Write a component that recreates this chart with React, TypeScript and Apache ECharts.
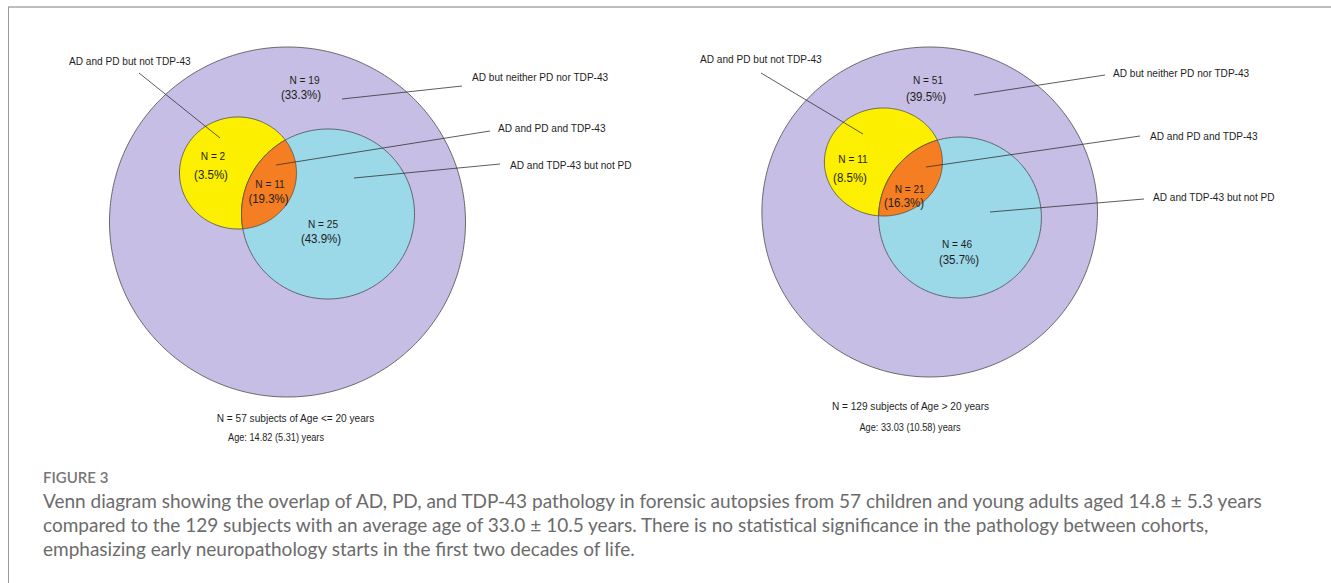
import React, { useEffect, useRef } from "react";
import * as echarts from "echarts";

// ---------- data ----------
// region order = drawing order (AD only, AD+PD, AD+TDP-43, AD+PD+TDP-43)
const regionNames = [
  "AD but neither PD nor TDP-43",
  "AD and PD but not TDP-43",
  "AD and TDP-43 but not PD",
  "AD and PD and TDP-43",
];
const youngCounts = [19, 2, 25, 11];
const youngPercents = ["33.3%", "3.5%", "43.9%", "19.3%"];
const olderCounts = [51, 11, 46, 21];
const olderPercents = ["39.5%", "8.5%", "35.7%", "16.3%"];
const cohortTitles = ["N = 57 subjects of Age <= 20 years", "N = 129 subjects of Age > 20 years"];
const cohortAges = ["Age: 14.82 (5.31) years", "Age: 33.03 (10.58) years"];
const figureLabel = "FIGURE 3";
const captionLines = [
  "Venn diagram showing the overlap of AD, PD, and TDP-43 pathology in forensic autopsies from 57 children and young adults aged 14.8 \u00b1 5.3 years",
  "compared to the 129 subjects with an average age of 33.0 \u00b1 10.5 years. There is no statistical significance in the pathology between cohorts,",
  "emphasizing early neuropathology starts in the first two decades of life.",
];

// ---------- layout (positions / styles) ----------
type Ell = { cx: number; cy: number; rx: number; ry: number };
type PanelLayout = {
  ad: Ell;
  pd: Ell;
  tdp: Ell;
  nPos: number[][];
  pPos: number[][];
  calloutText: number[][];
  calloutLine: number[][];
  titlePos: number[];
  agePos: number[];
};

const layouts: PanelLayout[] = [
  {
    ad: { cx: 287.5, cy: 222, rx: 178, ry: 175 },
    pd: { cx: 238, cy: 173, rx: 58.5, ry: 56 },
    tdp: { cx: 328, cy: 214, rx: 86.5, ry: 85 },
    nPos: [[304.5, 80], [213, 156], [323, 224], [270, 184]],
    pPos: [[301, 95], [211, 175], [321, 239], [268.5, 199]],
    calloutText: [[472, 77], [69, 61], [510, 165], [498, 128]],
    calloutLine: [
      [462, 86, 342, 99],
      [139, 73, 220, 138],
      [500, 164, 354, 178],
      [490, 131, 276, 165],
    ],
    titlePos: [295.5, 418],
    agePos: [276, 437],
  },
  {
    ad: { cx: 929.7, cy: 212, rx: 167.8, ry: 165 },
    pd: { cx: 883.4, cy: 162, rx: 59, ry: 54 },
    tdp: { cx: 960, cy: 217.5, rx: 81.4, ry: 80.5 },
    nPos: [[928, 80], [853, 159], [957, 244], [909.7, 189]],
    pPos: [[926, 97], [850, 178], [959, 260], [904, 203]],
    calloutText: [[1113, 73], [700, 59], [1153, 197], [1150, 136]],
    calloutLine: [
      [1105, 75, 974, 95],
      [761, 73, 863, 134],
      [1144, 199, 990, 212],
      [1140, 136, 926, 167],
    ],
    titlePos: [910.5, 406],
    agePos: [910, 427],
  },
];

const regionColors = ["#c6bee4", "#fcef00", "#9bd8e8", "#f57e22"];
const outline = "#4a4a4a";
const venFont = '"Liberation Sans", Arial, sans-serif';
const squash = 0.92;
const capFont = 'Lato, "Open Sans", sans-serif';

const panelCounts = [youngCounts, olderCounts];
const panelPercents = [youngPercents, olderPercents];

function inside(e: Ell, x: number, y: number) {
  const dx = (x - e.cx) / e.rx;
  const dy = (y - e.cy) / e.ry;
  return dx * dx + dy * dy <= 1;
}

function ellPoints(e: Ell, n = 360) {
  const pts: number[][] = [];
  for (let i = 0; i < n; i++) {
    const t = (2 * Math.PI * i) / n;
    pts.push([e.cx + e.rx * Math.cos(t), e.cy + e.ry * Math.sin(t)]);
  }
  return pts;
}

function intersectionPoints(a: Ell, b: Ell) {
  const pts = ellPoints(a, 720)
    .filter((p) => inside(b, p[0], p[1]))
    .concat(ellPoints(b, 720).filter((p) => inside(a, p[0], p[1])));
  const mx = pts.reduce((s, p) => s + p[0], 0) / pts.length;
  const my = pts.reduce((s, p) => s + p[1], 0) / pts.length;
  pts.sort((p, q) => Math.atan2(p[1] - my, p[0] - mx) - Math.atan2(q[1] - my, q[0] - mx));
  return pts;
}

const seriesData: number[][] = [];
panelCounts.forEach((counts, p) => counts.forEach((c, r) => seriesData.push([p, r, c])));

function vText(pos: number[], text: string, size: number, align: string) {
  return {
    type: "text",
    x: pos[0],
    y: pos[1],
    scaleX: squash,
    style: { text, fill: "#1e1e1e", font: `${size}px ${venFont}`, align, verticalAlign: "middle" },
  };
}

export default function App() {
  const ref = useRef<HTMLDivElement>(null);
  useEffect(() => {
    if (!ref.current) return;
    const chart = echarts.init(ref.current, null, { renderer: "svg" });

    const renderItem = (params: any, api: any) => {
      const p = api.value(0);
      const r = api.value(1);
      const count = api.value(2);
      const L = layouts[p];
      const c = (pt: number[]) => api.coord(pt);
      const children: any[] = [];
      let shapePts: number[][];
      if (r === 0) shapePts = ellPoints(L.ad);
      else if (r === 1) shapePts = ellPoints(L.pd);
      else if (r === 2) shapePts = ellPoints(L.tdp);
      else shapePts = intersectionPoints(L.pd, L.tdp);
      children.push({
        type: "polygon",
        shape: { points: shapePts.map(c) },
        style: { fill: regionColors[r], stroke: outline, lineWidth: 0.8 },
      });
      const ln = L.calloutLine[r];
      const a = c([ln[0], ln[1]]);
      const b = c([ln[2], ln[3]]);
      children.push({
        type: "line",
        shape: { x1: a[0], y1: a[1], x2: b[0], y2: b[1] },
        style: { stroke: "#333", lineWidth: 0.8 },
      });
      children.push(vText(c(L.calloutText[r]), regionNames[r], 11, "left"));
      children.push(vText(c(L.nPos[r]), `N = ${count}`, 11, "center"));
      children.push(vText(c(L.pPos[r]), `(${panelPercents[p][r]})`, 12.5, "center"));
      if (r === 0) {
        children.push(vText(c(L.titlePos), cohortTitles[p], 11, "center"));
        children.push(vText(c(L.agePos), cohortAges[p], 10, "center"));
      }
      return { type: "group", children };
    };

    const graphics: any[] = [
      { type: "line", shape: { x1: 8, y1: 7, x2: 1331, y2: 7 }, style: { stroke: "#bdbdbd", lineWidth: 2 } },
      { type: "line", shape: { x1: 8.5, y1: 7, x2: 8.5, y2: 583 }, style: { stroke: "#9a9a9a", lineWidth: 1 } },
      {
        type: "text",
        x: 43,
        y: 477,
        style: { text: figureLabel, fill: "#777", font: `600 15px ${capFont}`, align: "left", verticalAlign: "middle" },
      },
    ];
    captionLines.forEach((t, i) => {
      graphics.push({
        type: "text",
        x: 43,
        y: 500 + i * 24,
        style: { text: t, fill: "#6b6b6b", font: `19px ${capFont}`, align: "left", verticalAlign: "middle" },
      });
    });

    chart.setOption({
      animation: false,
      grid: { left: 0, right: 0, top: 0, bottom: 0 },
      xAxis: { type: "value", min: 0, max: 1331, show: false },
      yAxis: { type: "value", min: 0, max: 583, inverse: true, show: false },
      series: [
        {
          type: "custom",
          silent: true,
          clip: false,
          renderItem,
          data: seriesData,
        },
      ],
      graphic: graphics,
    });
    return () => chart.dispose();
  }, []);
  return (
    <div
      ref={ref}
      style={{ position: "fixed", left: 0, top: 0, width: 1331, height: 583, background: "#fff" }}
    />
  );
}
